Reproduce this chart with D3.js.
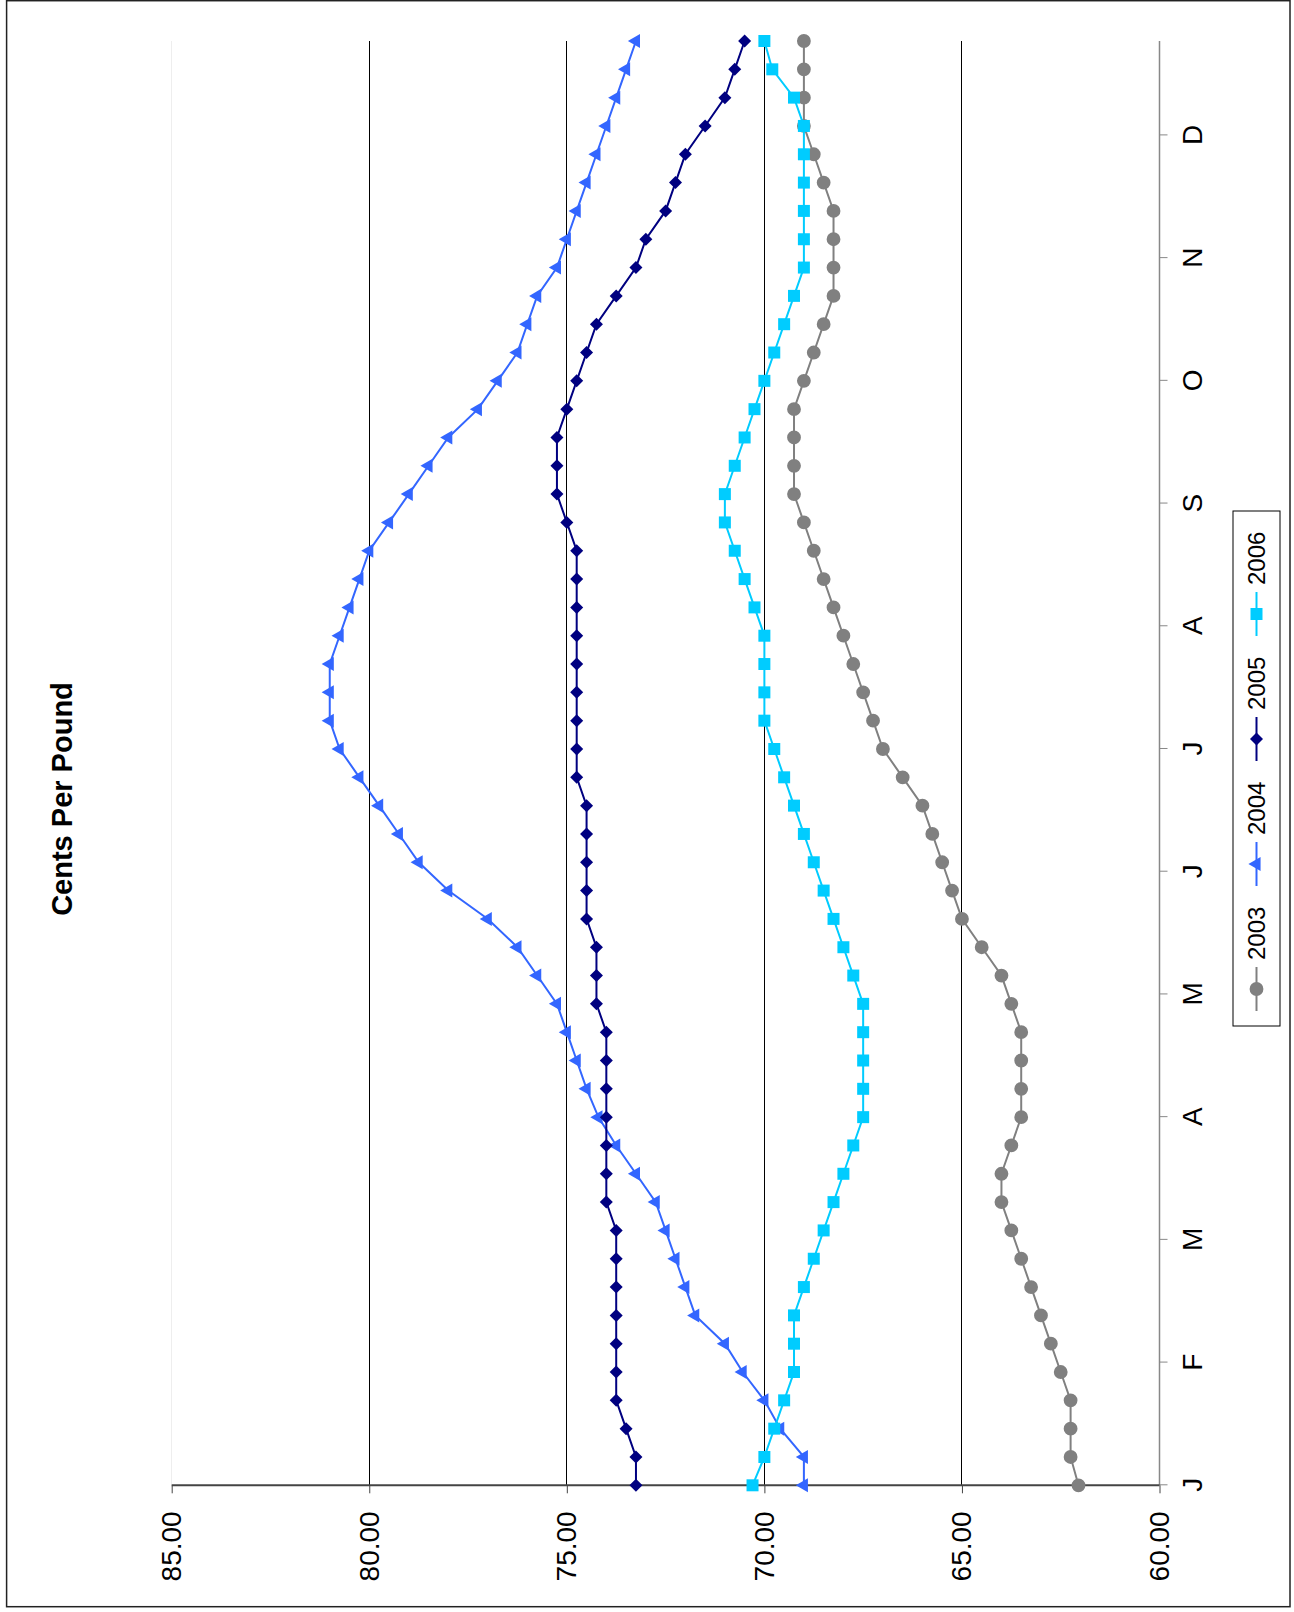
<!DOCTYPE html>
<html>
<head>
<meta charset="utf-8">
<script src="https://cdn.jsdelivr.net/npm/d3@7"></script>
<style>
body { margin: 0; background: #fff; }
text { font-family: "Liberation Sans", Arial, sans-serif; fill: #000; }
</style>
</head>
<body>
<script>
// weekly prices, one value per week, Jan -> Dec
var months = ["J", "F", "M", "A", "M", "J", "J", "A", "S", "O", "N", "D"];
var years = ["2003", "2004", "2005", "2006"];
var valueTicks = [60, 65, 70, 75, 80, 85];

var s2003 = [62.05, 62.25, 62.25, 62.25, 62.5, 62.75, 63, 63.25, 63.5, 63.75, 64, 64, 63.75,
  63.5, 63.5, 63.5, 63.5, 63.75, 64, 64.5, 65, 65.25, 65.5, 65.75, 66, 66.5,
  67, 67.25, 67.5, 67.75, 68, 68.25, 68.5, 68.75, 69, 69.25, 69.25, 69.25, 69.25,
  69, 68.75, 68.5, 68.25, 68.25, 68.25, 68.25, 68.5, 68.75, 69, 69, 69, 69];
var s2004 = [69, 69, 69.6, 70, 70.55, 71, 71.75, 72, 72.25, 72.5, 72.75, 73.25, 73.75,
  74.2, 74.5, 74.75, 75, 75.25, 75.75, 76.25, 77, 78, 78.75, 79.25, 79.75, 80.25,
  80.75, 81, 81, 81, 80.75, 80.5, 80.25, 80, 79.5, 79, 78.5, 78, 77.25,
  76.75, 76.25, 76, 75.75, 75.25, 75, 74.75, 74.5, 74.25, 74, 73.75, 73.5, 73.25];
var s2005 = [73.25, 73.25, 73.5, 73.75, 73.75, 73.75, 73.75, 73.75, 73.75, 73.75, 74, 74, 74,
  74, 74, 74, 74, 74.25, 74.25, 74.25, 74.5, 74.5, 74.5, 74.5, 74.5, 74.75,
  74.75, 74.75, 74.75, 74.75, 74.75, 74.75, 74.75, 74.75, 75, 75.25, 75.25, 75.25, 75,
  74.75, 74.5, 74.25, 73.75, 73.25, 73, 72.5, 72.25, 72, 71.5, 71, 70.75, 70.5];
var s2006 = [70.3, 70, 69.75, 69.5, 69.25, 69.25, 69.25, 69, 68.75, 68.5, 68.25, 68, 67.75,
  67.5, 67.5, 67.5, 67.5, 67.5, 67.75, 68, 68.25, 68.5, 68.75, 69, 69.25, 69.5,
  69.75, 70, 70, 70, 70, 70.25, 70.5, 70.75, 71, 71, 70.75, 70.5, 70.25,
  70, 69.75, 69.5, 69.25, 69, 69, 69, 69, 69, 69, 69.25, 69.8, 70];

var width = 1294, height = 1612;

// the chart is laid out upright and then turned a quarter turn left
var W = height, H = width;
var plot = {left: 126.7, right: 1571, top: 171.7, bottom: 1159.5};

var series = [
  {name: years[0], values: s2003, color: "#808080", symbol: d3.symbolCircle, size: 150},
  {name: years[1], values: s2004, color: "#3366FF", symbol: d3.symbolTriangle, size: 85},
  {name: years[2], values: s2005, color: "#000080", symbol: d3.symbolDiamond, size: 0},
  {name: years[3], values: s2006, color: "#00CCFF", symbol: d3.symbolSquare, size: 144}
];

var svg = d3.select("body").append("svg")
    .attr("width", width)
    .attr("height", height);

var g = svg.append("g")
    .attr("transform", "translate(0," + height + ") rotate(-90)");

var x = d3.scaleLinear().domain([0, s2003.length - 1]).range([plot.left, plot.right]),
    y = d3.scaleLinear().domain([60, 85]).range([plot.bottom, plot.top]);

function marker(s) {
  if (s.symbol === d3.symbolDiamond) return "M0,-6.5L6.5,0L0,6.5L-6.5,0Z";
  return d3.symbol().type(s.symbol).size(s.size)();
}

// outer frame
g.append("rect")
    .attr("x", 5.3).attr("y", 6.6)
    .attr("width", W - 6).attr("height", 1283.4)
    .attr("fill", "none")
    .attr("stroke", "#222")
    .attr("stroke-width", 1.5);

// title
g.append("text")
    .attr("x", 813)
    .attr("y", 72)
    .attr("text-anchor", "middle")
    .style("font-size", "29px")
    .style("font-weight", "bold")
    .text("Cents Per Pound");

// horizontal gridlines
g.append("g")
  .selectAll("line")
  .data(valueTicks.filter(function(d) { return d > 60; }))
  .enter().append("line")
    .attr("x1", plot.left).attr("x2", plot.right)
    .attr("y1", function(d) { return y(d); })
    .attr("y2", function(d) { return y(d); })
    .attr("stroke", function(d) { return d === 85 ? "#eeeeee" : "#000"; })
    .attr("stroke-width", 1)
    .attr("shape-rendering", "crispEdges");

// category axis along the bottom
var xAxis = g.append("g")
    .attr("transform", "translate(0," + plot.bottom + ")")
    .call(d3.axisBottom(x)
        .tickValues(months.map(function(m, i) { return i * 52 / 12; }))
        .tickFormat(function(d, i) { return months[i]; })
        .tickSize(8)
        .tickPadding(14.5));
xAxis.select(".domain").remove();
xAxis.append("line")
    .attr("x1", plot.left).attr("x2", plot.right)
    .attr("stroke", "#888").attr("stroke-width", 1.5);
xAxis.selectAll(".tick line").attr("stroke", "#888");
xAxis.selectAll("text")
    .style("font-size", "28px")
    .style("font-family", "'Liberation Sans', Arial, sans-serif");

// value axis
var yAxis = g.append("g")
    .attr("transform", "translate(" + plot.left + ",0)")
    .call(d3.axisLeft(y)
        .tickValues(valueTicks)
        .tickFormat(d3.format(".2f"))
        .tickSize(8)
        .tickPadding(18));
yAxis.select(".domain").remove();
yAxis.append("line")
    .attr("y1", plot.top).attr("y2", plot.bottom)
    .attr("stroke", "#444").attr("stroke-width", 2);
yAxis.selectAll(".tick line").attr("stroke", "#444");
yAxis.selectAll("text")
    .style("font-size", "28px")
    .style("font-family", "'Liberation Sans', Arial, sans-serif");

// series
var line = d3.line()
    .x(function(d, i) { return x(i); })
    .y(function(d) { return y(d); });

var groups = g.selectAll(".series")
    .data(series)
  .enter().append("g")
    .attr("class", "series");

groups.append("path")
    .attr("d", function(s) { return line(s.values); })
    .attr("fill", "none")
    .attr("stroke", function(s) { return s.color; })
    .attr("stroke-width", 2);

groups.each(function(s) {
  d3.select(this).selectAll(".pt")
      .data(s.values)
    .enter().append("path")
      .attr("class", "pt")
      .attr("transform", function(d, i) { return "translate(" + x(i) + "," + y(d) + ")"; })
      .attr("d", marker(s))
      .attr("fill", s.color);
});

// legend
var legend = g.append("g").attr("transform", "translate(586,1233)");
legend.append("rect")
    .attr("width", 515).attr("height", 47)
    .attr("fill", "#fff")
    .attr("stroke", "#000")
    .attr("stroke-width", 1);

var items = legend.selectAll(".item")
    .data(series)
  .enter().append("g")
    .attr("class", "item")
    .attr("transform", function(s, i) { return "translate(" + (37 + i * 125) + ",23.5)"; });

items.append("line")
    .attr("x1", -22).attr("x2", 22)
    .attr("stroke", function(s) { return s.color; })
    .attr("stroke-width", 2);
items.append("path")
    .attr("d", function(s) { return marker(s); })
    .attr("fill", function(s) { return s.color; });
items.append("text")
    .attr("x", 29)
    .attr("dy", "0.35em")
    .style("font-size", "24px")
    .text(function(s) { return s.name; });
</script>
</body>
</html>
